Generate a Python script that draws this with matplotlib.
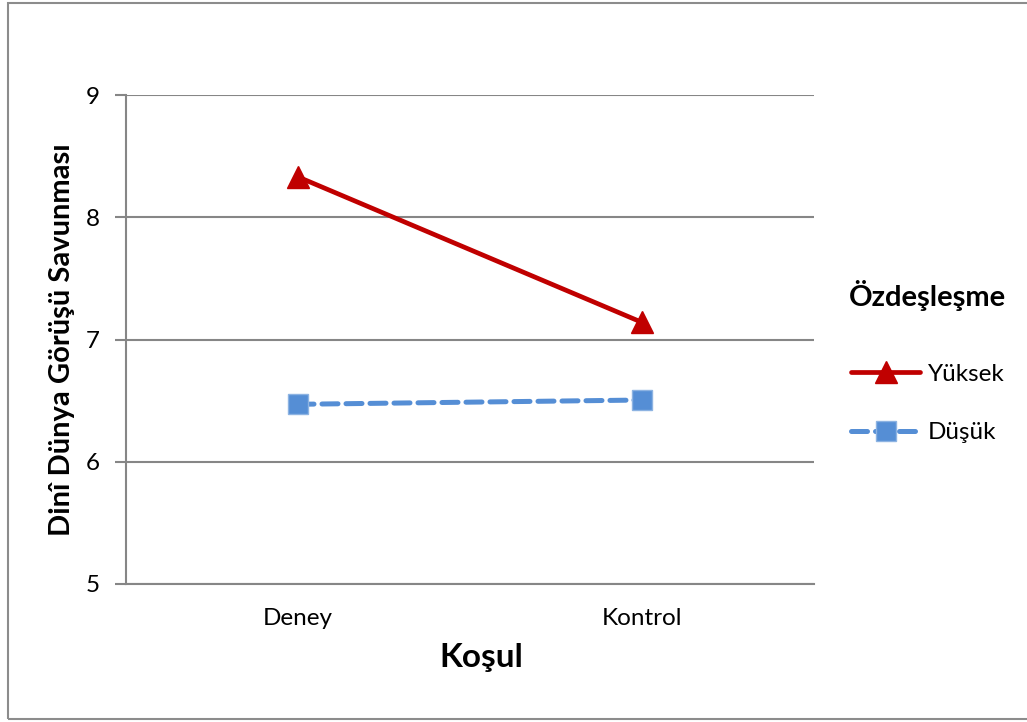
import matplotlib
matplotlib.use('Agg')
import matplotlib.pyplot as plt
from matplotlib.patches import Rectangle

# condition means by identification level
kosul = ['Deney', 'Kontrol']
yuksek = [8.33, 7.14]
dusuk = [6.47, 6.505]

plt.rcParams['font.family'] = ['Lato', 'DejaVu Sans']

fig = plt.figure(figsize=(10.27, 7.22), dpi=100)
ax = fig.add_axes([126 / 1027, 1 - 584 / 722, (814 - 126) / 1027, (584 - 95) / 722])

# outer chart frame
fig.patches.append(Rectangle((8 / 1027, 3 / 722), 1.2, 716 / 722, transform=fig.transFigure,
                             fill=False, edgecolor='#8c8c8c', linewidth=1.5))

x = [0, 1]
ax.plot(x, yuksek, color='#c00000', linewidth=3.4, marker='^', markersize=16,
        solid_capstyle='round', label='Yüksek')
ax.plot(x, dusuk, color='#558ed5', linewidth=3.6, linestyle=(0, (3.2, 1.6)),
        dash_capstyle='round', marker='s', markersize=14, markeredgecolor='#8db3e2',
        markeredgewidth=1, label='Düşük')

ax.set_xlim(-0.5, 1.5)
ax.set_ylim(5, 9)
ax.set_yticks([5, 6, 7, 8, 9])
ax.set_xticks(x)
ax.set_xticklabels(kosul)
ax.grid(axis='y', color='#868686', linewidth=1.5)
ax.set_axisbelow(True)
for s in ['top', 'right']:
    ax.spines[s].set_visible(False)
for s in ['left', 'bottom']:
    ax.spines[s].set_color('#868686')
    ax.spines[s].set_linewidth(1.5)
ax.tick_params(axis='y', length=8, width=1.5, color='#868686', labelsize=17.5, pad=11)
ax.tick_params(axis='x', length=0, labelsize=17.5, pad=17)

ax.set_xlabel('Koşul', fontsize=24, fontweight='bold')
ax.xaxis.set_label_coords(0.517, -0.12)
ax.set_ylabel('Dinî Dünya Görüşü Savunması', fontsize=21, fontweight='bold')
ax.yaxis.set_label_coords(-0.074, 0.5)

leg = ax.legend(title='Özdeşleşme', loc='upper left', bbox_to_anchor=(1.037, 0.642),
                frameon=False, fontsize=17.5, handlelength=2.85, labelspacing=1.55,
                handletextpad=0.3, borderaxespad=0)
leg.get_title().set_fontweight('bold')
leg.get_title().set_fontsize(21)
leg._legend_box.sep = 38

fig.savefig('out.png', dpi=100, facecolor='white')
